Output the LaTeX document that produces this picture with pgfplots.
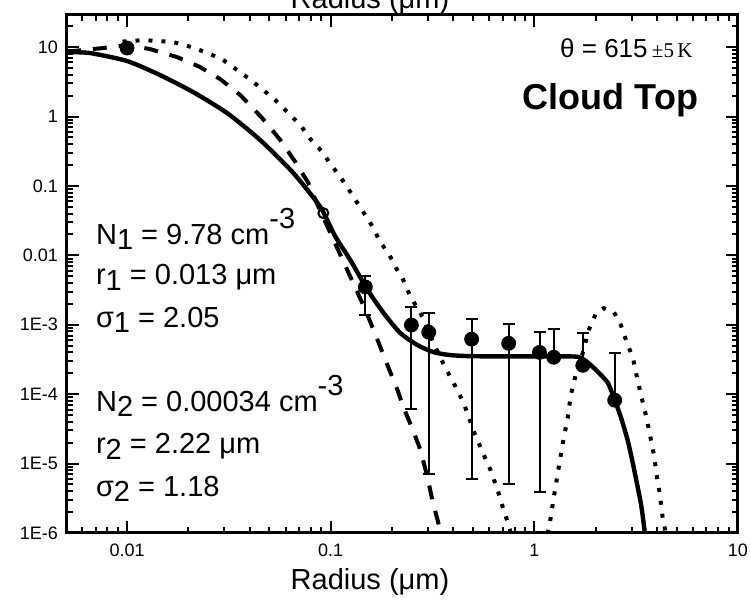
\documentclass[border=0pt]{standalone}
\usepackage{fontspec}
\setmainfont{Liberation Sans}
\newfontfamily\serif{Liberation Serif}
\usepackage{pgfplots}
\pgfplotsset{compat=1.18}
\usetikzlibrary{calc}
\begin{document}
\begin{tikzpicture}
\begin{axis}[name=ax, scale only axis, width=335.5pt, height=259pt,
  xmode=log, ymode=log, xmin=0.00507, xmax=10, ymin=1e-6, ymax=29,
  axis line style={line width=1.5pt},
  every tick/.style={black, line width=1pt},
  major tick length=6pt, minor tick length=3pt,
  tick align=inside,
  xtick={0.01,0.1,1,10}, xticklabels={0.01,0.1,1,10},
  minor xtick={0.006,0.007,0.008,0.009,0.02,0.03,0.04,0.05,0.06,0.07,0.08,0.09,0.2,0.3,0.4,0.5,0.6,0.7,0.8,0.9,2,3,4,5,6,7,8,9},
  ytick={1e-6,1e-5,1e-4,1e-3,0.01,0.1,1,10},
  yticklabels={1E-6,1E-5,1E-4,1E-3,0.01,0.1,1,10},
  minor ytick={2e-6,3e-6,4e-6,5e-6,6e-6,7e-6,8e-6,9e-6,2e-5,3e-5,4e-5,5e-5,6e-5,7e-5,8e-5,9e-5,2e-4,3e-4,4e-4,5e-4,6e-4,7e-4,8e-4,9e-4,2e-3,3e-3,4e-3,5e-3,6e-3,7e-3,8e-3,9e-3,0.02,0.03,0.04,0.05,0.06,0.07,0.08,0.09,0.2,0.3,0.4,0.5,0.6,0.7,0.8,0.9,2,3,4,5,6,7,8,9,20},
  ticklabel style={font=\fontsize{9}{10}\selectfont},
  xticklabel style={yshift=-2pt},
  yticklabel style={xshift=-1pt},
  clip=true,
]
% fit (solid)
\addplot[black, line width=2.2pt, smooth, tension=0.4] coordinates {
(0.00507,8.47) (0.00658,8.2) (0.01,6.3) (0.01452,3.95) (0.0211,2.25) (0.0310,1.12) (0.0451,0.457) (0.0656,0.153) (0.089,0.0495) (0.105,0.019) (0.125,0.0085) (0.152,0.00316) (0.182,0.00147) (0.220,7.57e-4) (0.267,5.08e-4) (0.320,4.03e-4) (0.388,3.65e-4) (0.5,3.52e-4) (0.8,3.5e-4) (1.2,3.5e-4) (1.63,3.45e-4) (1.83,2.85e-4) (2.05,2.1e-4) (2.30,1.44e-4) (2.46,8.8e-5) (2.66,4.67e-5) (2.88,2.1e-5) (3.08,8.6e-6) (3.34,2.6e-6) (3.49,1e-6) (3.6,5e-7)
};
% dashed
\addplot[black, line width=2pt, dash pattern=on 7pt off 6pt] coordinates {
(0.00507,8.6) (0.00762,9.68) (0.01,10.7) (0.01297,9.36) (0.01762,7.17) (0.02286,5.15) (0.02866,3.46) (0.0360,2.03) (0.0461,0.948) (0.0566,0.457) (0.0671,0.220) (0.0777,0.110) (0.0871,0.0496) (0.1117,0.01007) (0.143,2.05e-3) (0.153,1.29e-3) (0.170,6.0e-4) (0.182,3.6e-4) (0.197,2.01e-4) (0.213,1.14e-4) (0.228,6.4e-5) (0.255,2.9e-5) (0.276,1.56e-5) (0.299,6.3e-6) (0.316,2.9e-6) (0.335,1.53e-6) (0.347,1e-6) (0.36,6e-7)
};
% dotted
\addplot[black, line width=2pt, dash pattern=on 2pt off 4.5pt] coordinates {
(0.0095,12.0) (0.0120,12.6) (0.01452,12.2) (0.01683,11.8) (0.01927,10.7) (0.02208,9.36) (0.02558,7.93) (0.02964,6.50) (0.03475,4.66) (0.03935,3.58) (0.0461,2.48) (0.0535,1.72) (0.0619,1.12) (0.0710,0.752) (0.0795,0.472) (0.0911,0.307) (0.0997,0.206) (0.1117,0.134) (0.1223,0.0900) (0.1353,0.0565) (0.148,0.0379) (0.162,0.0247) (0.175,0.0155) (0.192,0.0108) (0.208,0.00676) (0.225,0.00469) (0.241,0.00295) (0.261,0.00191) (0.283,0.00129) (0.320,5.43e-4) (0.366,2.37e-4) (0.402,1.44e-4) (0.450,7.42e-5) (0.504,2.93e-5) (0.557,1.46e-5) (0.610,8.0e-6) (0.661,4.1e-6) (0.708,2.1e-6) (0.749,1.3e-6) (0.766,1e-6) (0.8,6e-7) (1.12,6e-7) (1.165,1e-6) (1.205,1.7e-6) (1.245,3.2e-6) (1.30,7.0e-6) (1.38,1.97e-5) (1.46,4.67e-5) (1.51,9.7e-5) (1.63,2.45e-4) (1.75,4.3e-4) (1.83,7.8e-4) (2.01,1.47e-3) (2.19,1.73e-3) (2.46,1.52e-3) (2.66,9.9e-4) (2.82,6.0e-4) (3.05,3.3e-4) (3.19,1.76e-4) (3.34,9.7e-5) (3.53,4.98e-5) (3.70,2.56e-5) (3.87,1.32e-5) (4.00,6.4e-6) (4.14,3.5e-6) (4.28,1.53e-6) (4.43,1e-6) (4.6,5e-7)
};
% measurements
\addplot[black, only marks, mark=*, mark size=3.5pt,
  error bars/.cd, y dir=both, y explicit,
  error bar style={line width=1pt},
  error mark=-,
  error mark options={rotate=90, line width=1pt, mark size=3pt}]
  table[x=x, y=y, y error plus=ep, y error minus=em] {
x y ep em
0.148 0.0035 0.0015 0.00213
0.249 9.9e-4 8.1e-4 9.29e-4
0.303 7.8e-4 6.9e-4 7.73e-4
0.492 6.2e-4 5.8e-4 6.14e-4
0.748 5.4e-4 4.8e-4 5.35e-4
1.06 4.0e-4 3.8e-4 3.961e-4
1.245 3.4e-4 5.2e-4 0
1.73 2.6e-4 5.0e-4 0
2.48 8.2e-5 3.08e-4 0
};
\addplot[black, only marks, mark=*, mark size=3.5pt] coordinates {(0.01,9.7)};
\addplot[black, only marks, mark=o, mark size=2.5pt, line width=1pt] coordinates {(0.092,0.0406)};
% annotations
\node[anchor=base west, font=\fontsize{14.5}{16}\selectfont] at (rel axis cs:0.0328,0.556) {N\raisebox{-2.5pt}{1} = 9.78 cm\raisebox{8pt}{-3}};
\node[anchor=base west, font=\fontsize{14.5}{16}\selectfont] at (rel axis cs:0.0328,0.479) {r\raisebox{-3pt}{1} = 0.013 μm};
\node[anchor=base west, font=\fontsize{14.5}{16}\selectfont] at (rel axis cs:0.0328,0.396) {σ\raisebox{-2.5pt}{1} = 2.05};
\node[anchor=base west, font=\fontsize{14.5}{16}\selectfont] at (rel axis cs:0.0328,0.2336) {N\raisebox{-2.5pt}{2} = 0.00034 cm\raisebox{8pt}{-3}};
\node[anchor=base west, font=\fontsize{14.5}{16}\selectfont] at (rel axis cs:0.0328,0.1544) {r\raisebox{-3pt}{2} = 2.22 μm};
\node[anchor=base west, font=\fontsize{14.5}{16}\selectfont] at (rel axis cs:0.0328,0.0695) {σ\raisebox{-2.5pt}{2} = 1.18};
\node[anchor=base east] at (rel axis cs:0.943,0.917) {\fontsize{13}{14}\selectfont θ = 615\,{\serif\fontsize{10.5}{12}\selectfont ±5\,K}};
\node[anchor=base east, font=\bfseries\fontsize{18}{20}\selectfont] at (rel axis cs:0.951,0.8166) {Cloud Top};
\end{axis}
\node[anchor=base, font=\fontsize{14.5}{16}\selectfont] at ($(ax.south west)+(151.5pt,-28.5pt)$) {Radius (μm)};
\node[anchor=base, font=\fontsize{14.5}{16}\selectfont] at ($(ax.north west)+(151.5pt,3.25pt)$) {Radius (μm)};
\pgfresetboundingbox
\path ($(ax.south west)+(-33.5pt,-34.5pt)$) rectangle ($(ax.north east)+(6.5pt,7.5pt)$);
\end{tikzpicture}
\end{document}
